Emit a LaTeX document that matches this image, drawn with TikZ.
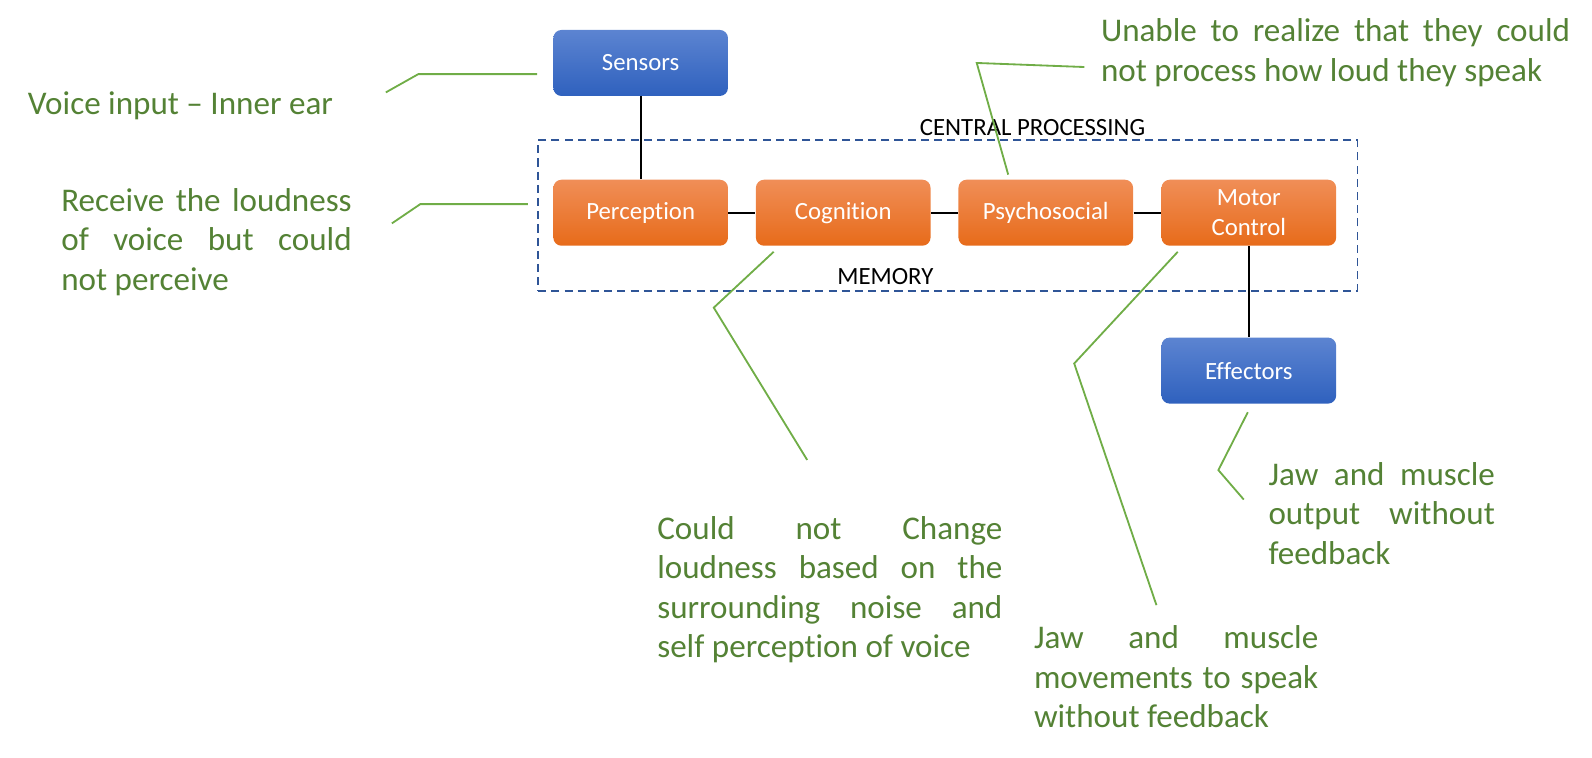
\documentclass[tikz,border=0pt]{standalone}
\usepackage{fontspec}
\setmainfont{Carlito}[Ligatures=NoCommon]
\definecolor{gtext}{HTML}{548235}
\definecolor{gline}{HTML}{70AD47}
\definecolor{dbox}{HTML}{2F5597}
\definecolor{otop}{HTML}{F08E57}
\definecolor{omid}{HTML}{F37E2E}
\definecolor{obot}{HTML}{E76B1A}
\definecolor{btop}{HTML}{5C84D1}
\definecolor{bmid}{HTML}{4373C9}
\definecolor{bbot}{HTML}{2F61BE}
\hyphenpenalty=10000
\exhyphenpenalty=10000
\begin{document}
\begin{tikzpicture}[x=0.5pt,y=-0.5pt,
  obox/.style={rounded corners=4pt, top color=otop, middle color=omid, bottom color=obot, draw=none,
    minimum width=86pt, minimum height=32.5pt, text=white,
    font=\fontsize{12.2}{14.8}\selectfont, align=center, inner sep=0pt},
  bbox/.style={obox, top color=btop, middle color=bmid, bottom color=bbot},
  conn/.style={black, line width=1pt},
  callout/.style={gline, line width=0.9pt},
  gtxt/.style={text=gtext, font=\fontsize{16.3}{19.5}\selectfont, inner sep=0pt},
  gpar/.style={gtxt, align=justify, anchor=base west},
  btxt/.style={black, font=\fontsize{12.2}{14.8}\selectfont, inner sep=0pt},
  cpbox/.style={draw=dbox, dashed, dash pattern=on 4pt off 2.5pt, line width=0.9pt,
    minimum width=403.5pt, minimum height=74.5pt, inner sep=0pt}
]
\useasboundingbox (0,0) rectangle (1568,746);

% central processing frame
\node[cpbox] (cp) at (933.5,212.5) {};
\node[btxt] (cpl) at (1017,126) {CENTRAL PROCESSING};
\node[btxt] (mem) at (872,272) {MEMORY};

% boxes
\node[bbox] (sens) at (631,62) {Sensors};
\node[obox] (perc) at (631,209.5) {Perception};
\node[obox] (cog) at (830.5,209.5) {Cognition};
\node[obox] (psy) at (1030,209.5) {Psychosocial};
\node[obox] (mot) at (1230,209.5) {Motor\\Control};
\node[bbox] (eff) at (1230,365) {Effectors};

% connectors
\draw[conn] (sens) -- (perc);
\draw[conn] (perc) -- (cog);
\draw[conn] (cog) -- (psy);
\draw[conn] (psy) -- (mot);
\draw[conn] (mot) -- (eff);

% callout texts
\node[gtxt, anchor=base west] (t1) at (27,113) {Voice input – Inner ear};
\node[gpar, text width=143pt] (t2) at (60,208) {Receive the loudness\linebreak of voice but could\linebreak not perceive};
\node[gpar, text width=231pt] (t3) at (1084,41) {Unable to realize that they could\linebreak not process how loud they speak};
\node[gpar, text width=170pt] (t4) at (647,531) {Could not Change\linebreak loudness based on the\linebreak surrounding noise and\linebreak self perception of voice};
\node[gpar, text width=140pt] (t5) at (1018,639) {Jaw and muscle\linebreak movements to speak\linebreak without feedback};
\node[gpar, text width=111.5pt] (t6) at (1249,478) {Jaw and muscle\linebreak output without\linebreak feedback};

% callout lines
\coordinate (a1) at (380,91);  \coordinate (b1) at (412,73);  \coordinate (c1) at (529,73);
\coordinate (a2) at (386,220); \coordinate (b2) at (414,201); \coordinate (c2) at (520,201);
\coordinate (a3) at (993,172); \coordinate (b3) at (962,62);  \coordinate (c3) at (1068,66);
\coordinate (a4) at (762,248); \coordinate (b4) at (703,303); \coordinate (c4) at (795,453);
\coordinate (a5) at (1160,248);\coordinate (b5) at (1058,358);\coordinate (c5) at (1139,596);
\coordinate (a6) at (1229,406);\coordinate (b6) at (1200,463);\coordinate (c6) at (1225,492);
\draw[callout] (a1) -- (b1) -- (c1);
\draw[callout] (a2) -- (b2) -- (c2);
\draw[callout] (a3) -- (b3) -- (c3);
\draw[callout] (a4) -- (b4) -- (c4);
\draw[callout] (a5) -- (b5) -- (c5);
\draw[callout] (a6) -- (b6) -- (c6);
\end{tikzpicture}
\end{document}
